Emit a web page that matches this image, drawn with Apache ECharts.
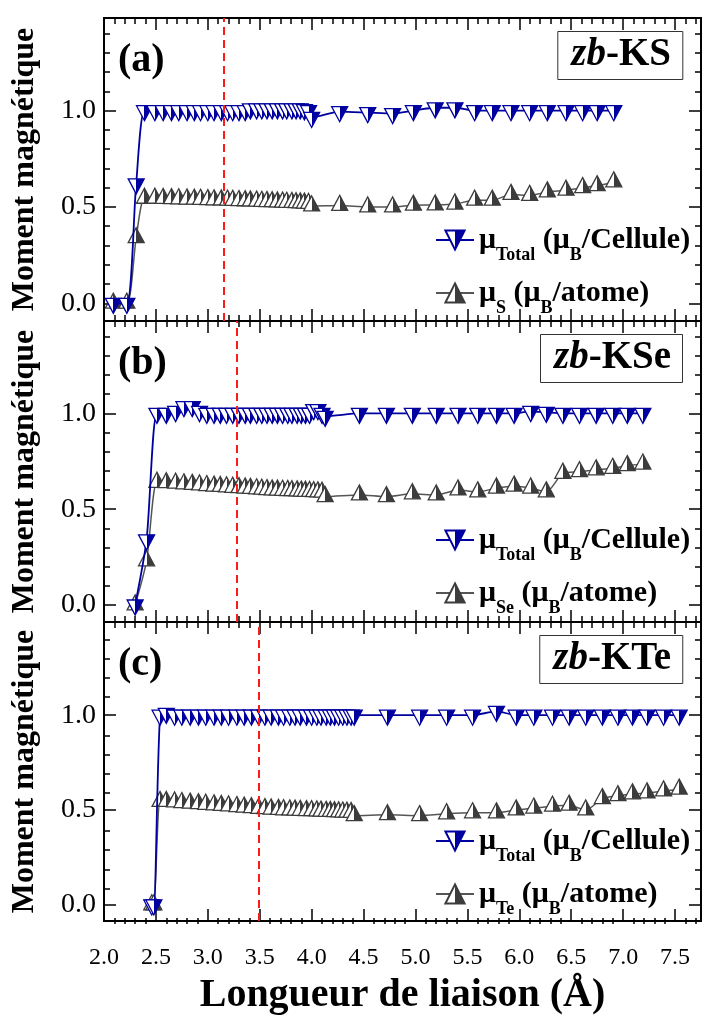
<!DOCTYPE html>
<html>
<head>
<meta charset="utf-8">
<script src="https://cdn.jsdelivr.net/npm/echarts@6/dist/echarts.min.js"></script>
<style>
  html, body { margin: 0; padding: 0; background: #fff; }
  #chart { width: 706px; height: 1017px; }
</style>
</head>
<body>
<div id="chart"></div>
<script>
// ---- data (bond length in Å, moments in μB) ----
const xA = [2.09, 2.22, 2.31, 2.39,
  2.49, 2.57, 2.65, 2.72, 2.80, 2.87, 2.93, 3.00, 3.06, 3.13,
  3.19, 3.24, 3.30, 3.36, 3.41, 3.47, 3.52, 3.57, 3.62, 3.67,
  3.72, 3.76, 3.81, 3.85, 3.89, 3.93, 3.97, 4.00,
  4.27, 4.54, 4.78, 4.98, 5.19, 5.38, 5.57, 5.74, 5.92, 6.10,
  6.27, 6.45, 6.61, 6.75, 6.91]
const totA = [0.00, 0.00, 0.62, 1.00,
  1.00, 1.00, 1.00, 1.00, 1.00, 1.00, 1.00, 1.00, 1.00, 1.00,
  1.00, 1.00, 1.00, 1.00, 1.01, 1.01, 1.01, 1.01, 1.01, 1.01,
  1.01, 1.01, 1.01, 1.01, 1.01, 1.005, 1.00, 0.965,
  0.995, 0.99, 0.985, 1.00, 1.015, 1.015, 1.00, 1.00, 1.00, 1.00,
  1.00, 1.00, 1.00, 1.00, 1.00]
const muA = [0.00, 0.00, 0.34, 0.545,
  0.545, 0.544, 0.543, 0.542, 0.541, 0.540, 0.539, 0.538, 0.537, 0.536,
  0.535, 0.534, 0.533, 0.532, 0.531, 0.530, 0.529, 0.528, 0.527, 0.526,
  0.525, 0.524, 0.523, 0.522, 0.521, 0.520, 0.518, 0.505,
  0.508, 0.500, 0.500, 0.509, 0.510, 0.515, 0.535, 0.535, 0.565, 0.560,
  0.578, 0.587, 0.600, 0.610, 0.630]

const xB = [2.30, 2.41,
  2.51, 2.60, 2.69, 2.77, 2.85, 2.92, 2.99, 3.06, 3.12, 3.18,
  3.24, 3.30, 3.36, 3.41, 3.47, 3.52, 3.57, 3.62, 3.67, 3.72,
  3.77, 3.81, 3.86, 3.90, 3.94, 3.98, 4.02, 4.06, 4.10, 4.13,
  4.46, 4.72, 4.97, 5.20, 5.41, 5.60, 5.78, 5.95, 6.11, 6.26,
  6.42, 6.58, 6.74, 6.90, 7.04, 7.19]
const totB = [0.00, 0.34,
  1.00, 1.00, 1.01, 1.035, 1.035, 1.01, 1.00, 1.00, 1.00, 1.00,
  1.00, 1.00, 1.00, 1.00, 1.00, 1.00, 1.00, 1.00, 1.00, 1.00,
  1.00, 1.00, 1.00, 1.00, 1.00, 1.00, 1.02, 1.02, 1.00, 0.985,
  1.00, 1.00, 1.00, 1.00, 1.00, 1.00, 1.00, 1.00, 1.01, 1.005,
  1.00, 1.00, 1.00, 1.00, 1.00, 1.00]
const muB = [0.00, 0.23,
  0.640, 0.638, 0.635, 0.632, 0.629, 0.626, 0.623, 0.620, 0.618, 0.616,
  0.614, 0.612, 0.610, 0.608, 0.606, 0.604, 0.602, 0.600, 0.599, 0.598,
  0.597, 0.596, 0.595, 0.594, 0.593, 0.592, 0.591, 0.590, 0.588, 0.565,
  0.574, 0.565, 0.580, 0.574, 0.600, 0.590, 0.610, 0.620, 0.610, 0.590,
  0.687, 0.695, 0.705, 0.713, 0.727, 0.735]

const xC = [2.46, 2.48,
  2.54, 2.60, 2.68, 2.75, 2.83, 2.91, 2.98, 3.06, 3.13, 3.20,
  3.28, 3.35, 3.42, 3.49, 3.55, 3.61, 3.68, 3.73, 3.79, 3.84,
  3.89, 3.95, 4.00, 4.05, 4.09, 4.14, 4.18, 4.22, 4.26, 4.30,
  4.34, 4.38, 4.41,
  4.73, 5.04, 5.30, 5.55, 5.78, 5.97, 6.14, 6.32, 6.48, 6.64,
  6.80, 6.95, 7.09, 7.23, 7.39, 7.54]
const totC = [0.00, 0.00,
  1.00, 1.01, 1.00, 1.00, 1.00, 1.00, 1.00, 1.00, 1.00, 1.00,
  1.00, 1.00, 1.00, 1.00, 1.00, 1.00, 1.00, 1.00, 1.00, 1.00,
  1.00, 1.00, 1.00, 1.00, 1.00, 1.00, 1.00, 1.00, 1.00, 1.00,
  1.00, 1.00, 1.00,
  1.00, 1.00, 1.00, 1.00, 1.02, 1.00, 1.00, 1.00, 1.00, 1.00,
  1.00, 1.00, 1.00, 1.00, 1.00, 1.00]
const muC = [0.00, 0.00,
  0.545, 0.545, 0.542, 0.539, 0.536, 0.533, 0.530, 0.527, 0.524, 0.521,
  0.518, 0.515, 0.512, 0.509, 0.507, 0.505, 0.503, 0.501, 0.500, 0.499,
  0.498, 0.497, 0.496, 0.495, 0.494, 0.493, 0.492, 0.491, 0.490, 0.489,
  0.488, 0.487, 0.470,
  0.475, 0.470, 0.480, 0.485, 0.485, 0.500, 0.510, 0.520, 0.525, 0.500,
  0.560, 0.575, 0.585, 0.590, 0.600, 0.610]

const eqLength = [3.15, 3.28, 3.49]      // red dashed lines
const compounds = ['KS', 'KSe', 'KTe']
const atoms = ['S', 'Se', 'Te']
const panelTags = ['(a)', '(b)', '(c)']

// ticks
const xMajor = [2.0, 2.5, 3.0, 3.5, 4.0, 4.5, 5.0, 5.5, 6.0, 6.5, 7.0, 7.5]
const xMinor = [2.1, 2.2, 2.3, 2.4, 2.6, 2.7, 2.8, 2.9, 3.1, 3.2, 3.3, 3.4,
  3.6, 3.7, 3.8, 3.9, 4.1, 4.2, 4.3, 4.4, 4.6, 4.7, 4.8, 4.9,
  5.1, 5.2, 5.3, 5.4, 5.6, 5.7, 5.8, 5.9, 6.1, 6.2, 6.3, 6.4,
  6.6, 6.7, 6.8, 6.9, 7.1, 7.2, 7.3, 7.4, 7.6, 7.7]
const yMajor = [0.0, 0.5, 1.0]
const yMinor = [0.1, 0.2, 0.3, 0.4, 0.6, 0.7, 0.8, 0.9, 1.1, 1.2, 1.3, 1.4]

const panels = [
  { x: xA, tot: totA, mu: muA },
  { x: xB, tot: totB, mu: muB },
  { x: xC, tot: totC, mu: muC }
]

// ---- layout ----
const FONT = 'Liberation Serif'
const BLUE = '#0000a0'
const GRAY = '#3c3c3c'
const gridTop = [18, 321, 622]
const gridH = [303, 301, 302]
const yMin = [-0.092, -0.089, -0.085]
const yMax = [1.481, 1.482, 1.491]
const legendTop = [220, 520, 821]

function halfFill(c) {
  return new echarts.graphic.LinearGradient(0, 0, 1, 0, [
    { offset: 0, color: '#fff' }, { offset: 0.5, color: '#fff' },
    { offset: 0.5, color: c }, { offset: 1, color: c }
  ])
}
const downTri = 'path://M0,0 L10,0 L5,9.4 Z'
const upTri = 'path://M5,0 L10,9.4 L0,9.4 Z'

function tickAxis(kind, gridIndex, pos, values, len, min, max) {
  return {
    type: 'value', gridIndex: gridIndex, min: min, max: max, position: pos,
    axisLine: { show: false, onZero: false }, splitLine: { show: false },
    axisTick: { show: true, inside: true, length: len, customValues: values, lineStyle: { color: '#000', width: 1.5 } },
    axisLabel: { show: false }
  }
}

let chart = echarts.init(document.getElementById('chart'))

let grids = [], xAxes = [], yAxes = [], series = [], legends = [], titles = []

panels.forEach((p, i) => {
  // grid 2i holds the data + major ticks, grid 2i+1 (same box) only the minor ticks
  grids.push({ left: 104, right: 5, top: gridTop[i], height: gridH[i], show: true, borderColor: '#000', borderWidth: 2 })
  grids.push({ left: 104, right: 5, top: gridTop[i], height: gridH[i], show: false })
  const gm = 2 * i, gn = 2 * i + 1

  let xb = tickAxis('x', gm, 'bottom', xMajor, 12, 2.0, 7.75)
  if (i === 2) {
    xb.axisLabel = {
      show: true, customValues: xMajor, margin: 25,
      formatter: v => v.toFixed(1),
      fontFamily: FONT, fontSize: 24, color: '#000'
    }
    xb.name = 'Longueur de liaison (Å)'
    xb.nameLocation = 'middle'
    xb.nameGap = 55
    xb.nameTextStyle = { fontFamily: FONT, fontWeight: 'bold', fontSize: 40, color: '#000' }
  }
  xAxes.push(xb)                                               // 4i
  xAxes.push(tickAxis('x', gm, 'top', xMajor, 12, 2.0, 7.75))  // 4i+1
  xAxes.push(tickAxis('x', gn, 'bottom', xMinor, 6, 2.0, 7.75))
  xAxes.push(tickAxis('x', gn, 'top', xMinor, 6, 2.0, 7.75))

  let yl = tickAxis('y', gm, 'left', yMajor, 12, yMin[i], yMax[i])
  yl.axisLabel = {
    show: true, customValues: yMajor, margin: 8,
    formatter: v => v.toFixed(1),
    fontFamily: FONT, fontSize: 28, color: '#000'
  }
  yl.name = 'Moment magnétique'
  yl.nameLocation = 'middle'
  yl.nameGap = 63
  yl.nameTextStyle = { fontFamily: FONT, fontWeight: 'bold', fontSize: 32, color: '#000' }
  yAxes.push(yl)
  yAxes.push(tickAxis('y', gm, 'right', yMajor, 12, yMin[i], yMax[i]))
  yAxes.push(tickAxis('y', gn, 'left', yMinor, 6, yMin[i], yMax[i]))
  yAxes.push(tickAxis('y', gn, 'right', yMinor, 6, yMin[i], yMax[i]))

  const totName = 'tot' + i
  const muName = 'mu' + i
  series.push({
    name: totName, type: 'line', xAxisIndex: 4 * i, yAxisIndex: 4 * i,
    data: p.x.map((v, j) => [v, p.tot[j]]),
    smooth: 0.25,
    symbol: downTri, symbolSize: [16, 15], symbolOffset: [0, '17%'],
    itemStyle: { color: halfFill(BLUE), borderColor: BLUE, borderWidth: 1.3 },
    lineStyle: { color: BLUE, width: 1.8 },
    emphasis: { disabled: true },
    z: 3,
    markLine: {
      silent: true, symbol: 'none', label: { show: false },
      lineStyle: { color: '#ff1a1a', type: [8, 5], width: 2 },
      data: [{ xAxis: eqLength[i] }]
    }
  })
  series.push({
    name: muName, type: 'line', xAxisIndex: 4 * i, yAxisIndex: 4 * i,
    data: p.x.map((v, j) => [v, p.mu[j]]),
    smooth: 0.25,
    symbol: upTri, symbolSize: [16, 15], symbolOffset: [0, '-17%'],
    itemStyle: { color: halfFill(GRAY), borderColor: GRAY, borderWidth: 1.3 },
    lineStyle: { color: '#555', width: 1.5 },
    emphasis: { disabled: true },
    z: 2
  })

  legends.push({
    data: [totName, muName], orient: 'vertical', left: 430, top: legendTop[i],
    itemWidth: 38, itemHeight: 24, itemGap: 14, selectedMode: false,
    formatter: name => name.startsWith('tot')
      ? '{m|μ}{s|Total}{m| (μ}{s|B}{m|/Cellule)}'
      : '{m|μ}{s|' + atoms[i] + '}{m| (μ}{s|B}{m|/atome)}',
    textStyle: {
      color: '#000', fontFamily: FONT, fontWeight: 'bold',
      rich: {
        m: { fontFamily: FONT, fontWeight: 'bold', fontSize: 30, lineHeight: 36 },
        s: { fontFamily: FONT, fontWeight: 'bold', fontSize: 18, verticalAlign: 'bottom', padding: [0, 0, -6, 0] }
      }
    }
  })

  titles.push({
    text: panelTags[i], left: 118, top: gridTop[i] + 23, padding: 0,
    textStyle: { fontFamily: FONT, fontWeight: 'bold', fontSize: 40, color: '#000' }
  })
  titles.push({
    text: '{i|zb}{n|-' + compounds[i] + '}', right: 23, top: gridTop[i] + 12,
    borderColor: '#333', borderWidth: 1, padding: [4, 12, 6, 14],
    textStyle: {
      rich: {
        i: { fontFamily: FONT, fontStyle: 'italic', fontWeight: 'bold', fontSize: 39, color: '#000', lineHeight: 41 },
        n: { fontFamily: FONT, fontWeight: 'bold', fontSize: 39, color: '#000', lineHeight: 41 }
      }
    }
  })
})

let options = {
  backgroundColor: '#fff',
  animation: false,
  title: titles,
  legend: legends,
  grid: grids,
  xAxis: xAxes,
  yAxis: yAxes,
  series: series
}
chart.setOption(options)
</script>
</body>
</html>
